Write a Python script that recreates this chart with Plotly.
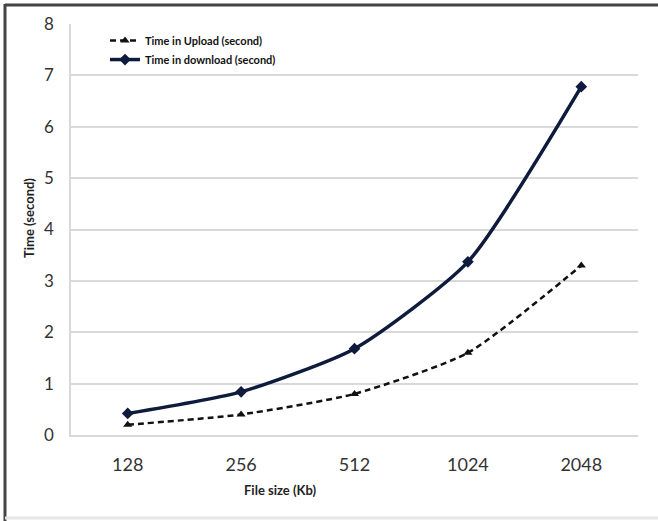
import plotly.graph_objects as go

# File sizes (Kb) and measured transfer times (seconds)
file_sizes = ["128", "256", "512", "1024", "2048"]
upload_time = [0.2, 0.4, 0.8, 1.6, 3.3]
download_time = [0.42, 0.84, 1.68, 3.37, 6.78]

y_ticks = [0, 1, 2, 3, 4, 5, 6, 7, 8]

FONT = "Lato"
GRID = "#d9d9d9"

fig = go.Figure()

fig.add_trace(go.Scatter(
    x=file_sizes, y=upload_time,
    name="Time in Upload (second)",
    mode="lines+markers",
    line=dict(color="#111111", width=2.5, dash="6px,4px", shape="spline", smoothing=0.6),
    marker=dict(symbol="triangle-up", size=8, color="#111111"),
))

fig.add_trace(go.Scatter(
    x=file_sizes, y=download_time,
    name="Time in download (second)",
    mode="lines+markers",
    line=dict(color="#0f1b3d", width=3.5, shape="spline", smoothing=0.6),
    marker=dict(symbol="diamond", size=9, color="#0f1b3d"),
))

fig.update_layout(
    width=658, height=521,
    margin=dict(l=71, r=20, t=24, b=86),
    paper_bgcolor="white",
    plot_bgcolor="white",
    font=dict(family=FONT, color="#222222"),
    showlegend=True,
    legend=dict(
        x=0.06, y=0.995, xanchor="left", yanchor="top",
        bgcolor="rgba(0,0,0,0)",
        font=dict(size=11, family=FONT, color="#111111", weight="bold"),
        itemwidth=30,
        tracegroupgap=2,
    ),
    xaxis=dict(
        type="category",
        categoryorder="array", categoryarray=file_sizes,
        range=[-0.5, len(file_sizes) - 0.5],
        showgrid=False,
        showline=True, linecolor=GRID, linewidth=2,
        ticks="", tickfont=dict(size=18, family=FONT, color="#333333"),
        ticklabelstandoff=12,
        zeroline=False,
    ),
    yaxis=dict(
        range=[0, 8],
        tickvals=y_ticks,
        showgrid=True, gridcolor=GRID, gridwidth=1.5,
        showline=True, linecolor=GRID, linewidth=1.5,
        ticks="", tickfont=dict(size=17, family=FONT, color="#333333"),
        ticklabelstandoff=12,
        zeroline=False,
    ),
    annotations=[
        dict(text="<b>File size (Kb)</b>", xref="paper", yref="paper",
             x=(280 - 71) / 567, y=-(490 - 435) / 411,
             xanchor="center", yanchor="middle", showarrow=False,
             font=dict(size=13, family=FONT, color="#222222")),
        dict(text="<b>Time (second)</b>", xref="paper", yref="paper",
             x=-(71 - 29) / 567, y=(435 - 218) / 411, textangle=-90,
             xanchor="center", yanchor="middle", showarrow=False,
             font=dict(size=13, family=FONT, color="#222222")),
    ],
    shapes=[
        # frame around the chart area
        dict(type="line", xref="paper", yref="paper",
             x0=-(71 - 5) / 567, x1=(658 - 71) / 567,
             y0=1 + (24 - 5) / 411, y1=1 + (24 - 5) / 411,
             line=dict(color="#444444", width=3)),
        dict(type="line", xref="paper", yref="paper",
             x0=-(71 - 5) / 567, x1=-(71 - 5) / 567,
             y0=1 + (24 - 4) / 411, y1=-(521 - 435) / 411,
             line=dict(color="#444444", width=3)),
        dict(type="line", xref="paper", yref="paper",
             x0=-(71 - 5) / 567, x1=(658 - 71) / 567,
             y0=-(518 - 435) / 411, y1=-(518 - 435) / 411,
             line=dict(color="#e6e6e6", width=3)),
    ],
)

fig.write_html("out.html")
